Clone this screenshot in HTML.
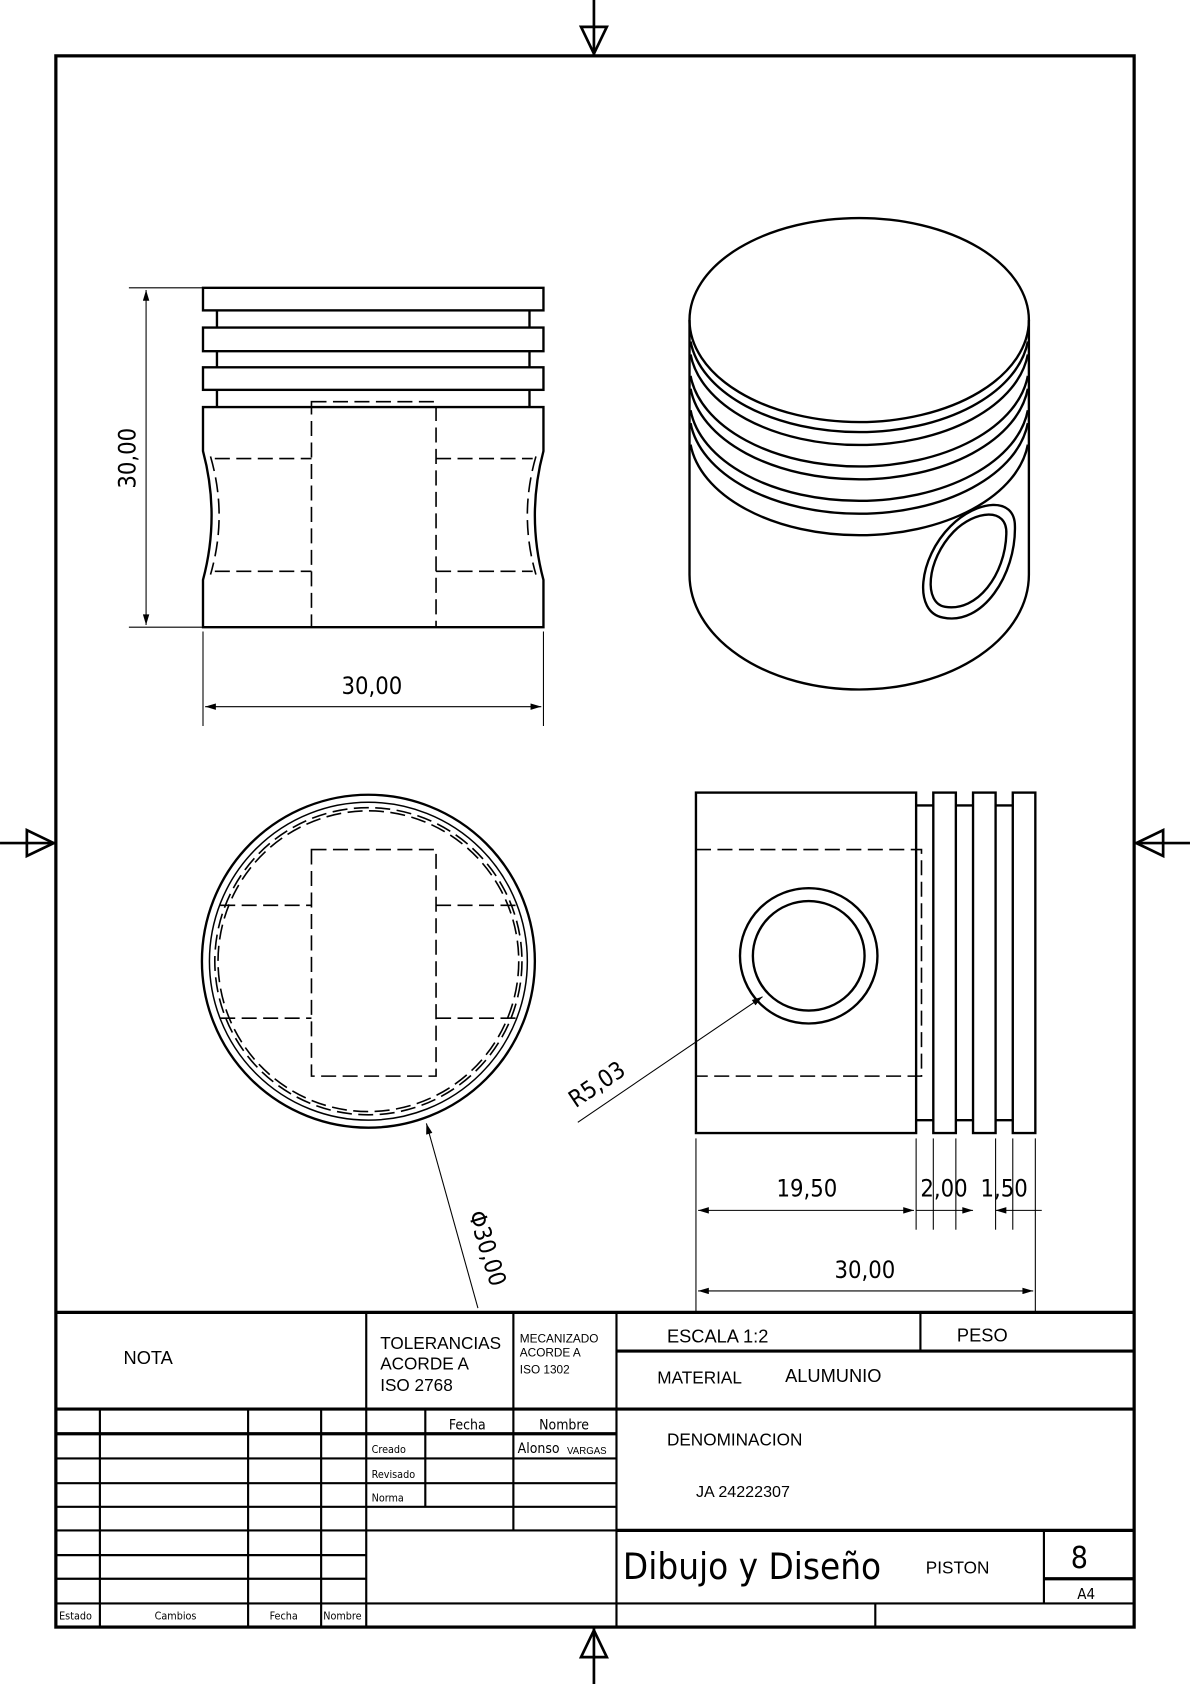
<!DOCTYPE html>
<html><head><style>
html,body{margin:0;padding:0;background:#fff;}
svg{display:block;}
text{font-family:"Liberation Sans",sans-serif;fill:#000;}
.d{font-family:"DejaVu Sans Condensed","DejaVu Sans",sans-serif;font-weight:200;}
</style></head><body>
<svg width="1190" height="1684" viewBox="0 0 1108 1568" xmlns="http://www.w3.org/2000/svg">
<defs>
<marker id="a" viewBox="0 0 10 6" refX="10" refY="3" markerWidth="14" markerHeight="6" markerUnits="userSpaceOnUse" orient="auto-start-reverse"><path d="M0,0L10,3L0,6z" fill="#000"/></marker>
</defs>
<g fill="none" stroke="#000">
<!-- frame -->
<rect x="52" y="52" width="1004" height="1463" stroke-width="3"/>
<!-- center marks -->
<g stroke-width="2.5">
<line x1="553" y1="0" x2="553" y2="52"/><path d="M541,25L565,25L553,50Z"/>
<line x1="0" y1="785" x2="52" y2="785"/><path d="M25,773L25,797L50,785Z"/>
<line x1="1056" y1="785" x2="1108" y2="785"/><path d="M1083,773L1083,797L1058,785Z"/>
<line x1="553" y1="1515" x2="553" y2="1568"/><path d="M541,1543L565,1543L553,1518Z"/>
</g>

<!-- FRONT VIEW -->
<g stroke-width="2.2">
<rect x="189" y="268" width="317" height="21"/>
<rect x="189" y="305" width="317" height="22"/>
<rect x="189" y="342" width="317" height="21"/>
<line x1="202" y1="289" x2="202" y2="305"/><line x1="493" y1="289" x2="493" y2="305"/>
<line x1="202" y1="327" x2="202" y2="342"/><line x1="493" y1="327" x2="493" y2="342"/>
<line x1="202" y1="363" x2="202" y2="379"/><line x1="493" y1="363" x2="493" y2="379"/>
<path d="M189,379L506,379L506,420Q490,480 506,540L506,584L189,584L189,540Q205,480 189,420Z"/>
</g>
<g stroke-width="1.5" stroke-dasharray="14,6">
<rect x="290" y="374" width="116" height="210"/>
<line x1="200" y1="427" x2="290" y2="427"/><line x1="406" y1="427" x2="496" y2="427"/>
<line x1="200" y1="532" x2="290" y2="532"/><line x1="406" y1="532" x2="496" y2="532"/>
<path d="M196,425Q212,480 196,535"/><path d="M499,425Q483,480 499,535"/>
</g>
<g stroke-width="1">
<line x1="120" y1="268" x2="189" y2="268"/><line x1="120" y1="584" x2="189" y2="584"/>
<line x1="136" y1="270" x2="136" y2="582" marker-start="url(#a)" marker-end="url(#a)"/>
<line x1="189" y1="588" x2="189" y2="676"/><line x1="506" y1="588" x2="506" y2="676"/>
<line x1="191" y1="658" x2="504" y2="658" marker-start="url(#a)" marker-end="url(#a)"/>
</g>

<!-- ISO VIEW -->
<g stroke-width="2.2">
<ellipse cx="800" cy="298" rx="158" ry="95"/>
<path d="M642,298L642,535A158,107 0 0 0 958,535L958,298"/>
<path d="M643,318A158,95 0 0 0 957,318"/>
<path d="M643,330A158,95 0 0 0 957,330"/>
<path d="M643,350A158,95 0 0 0 957,350"/>
<path d="M643,362A158,95 0 0 0 957,362"/>
<path d="M643,382A158,95 0 0 0 957,382"/>
<path d="M643,394A158,95 0 0 0 957,394"/>
<path d="M643,414A158,95 0 0 0 957,414"/>
<path d="M878,575C850,570 855,520 885,490C910,465 945,462 945,490C946,535 915,583 878,575Z"/>
<path d="M880,565C860,562 862,522 888,495C908,475 938,472 937,497C936,535 910,570 880,565Z"/>
</g>

<!-- TOP VIEW -->
<g stroke-width="2.2">
<circle cx="343" cy="895" r="155"/>
<circle cx="343" cy="895" r="148" stroke-width="1.4"/>
</g>
<g stroke-width="1.5" stroke-dasharray="14,6">
<circle cx="343" cy="895" r="143"/>
<circle cx="343" cy="895" r="140"/>
<rect x="290" y="791" width="116" height="211"/>
<line x1="205" y1="843" x2="290" y2="843"/><line x1="406" y1="843" x2="484" y2="843"/>
<line x1="205" y1="948" x2="290" y2="948"/><line x1="406" y1="948" x2="484" y2="948"/>
</g>
<line x1="445" y1="1218" x2="397" y2="1046" stroke-width="1" marker-end="url(#a)"/>

<!-- SIDE VIEW -->
<g stroke-width="2.2">
<rect x="648" y="738" width="205" height="317"/>
<rect x="869" y="738" width="21" height="317"/>
<rect x="906" y="738" width="21" height="317"/>
<rect x="943" y="738" width="21" height="317"/>
<line x1="853" y1="750" x2="869" y2="750"/><line x1="853" y1="1043" x2="869" y2="1043"/>
<line x1="890" y1="750" x2="906" y2="750"/><line x1="890" y1="1043" x2="906" y2="1043"/>
<line x1="927" y1="750" x2="943" y2="750"/><line x1="927" y1="1043" x2="943" y2="1043"/>
<ellipse cx="753" cy="890" rx="64" ry="63"/>
<ellipse cx="753" cy="890" rx="52" ry="51"/>
</g>
<path d="M648,791L858,791L858,1002L648,1002" stroke-width="1.5" stroke-dasharray="14,6"/>
<line x1="538" y1="1045" x2="710" y2="928" stroke-width="1" marker-end="url(#a)"/>
<g stroke-width="1">
<line x1="648" y1="1060" x2="648" y2="1222"/><line x1="964" y1="1060" x2="964" y2="1222"/>
<line x1="853" y1="1060" x2="853" y2="1145"/><line x1="869" y1="1060" x2="869" y2="1145"/>
<line x1="890" y1="1060" x2="890" y2="1145"/><line x1="927" y1="1060" x2="927" y2="1145"/>
<line x1="943" y1="1060" x2="943" y2="1145"/>
<line x1="650" y1="1127" x2="851" y2="1127" marker-start="url(#a)" marker-end="url(#a)"/>
<line x1="853" y1="1127" x2="869" y2="1127"/>
<line x1="869" y1="1127" x2="890" y2="1127"/>
<line x1="890" y1="1127" x2="906" y2="1127" marker-end="url(#a)"/>
<line x1="927" y1="1127" x2="943" y2="1127" marker-start="url(#a)"/>
<line x1="943" y1="1127" x2="970" y2="1127"/>
<line x1="650" y1="1202" x2="962" y2="1202" marker-start="url(#a)" marker-end="url(#a)"/>
</g>

<!-- TITLE BLOCK -->
<g stroke-width="3">
<line x1="52" y1="1222" x2="1056" y2="1222"/>
<line x1="52" y1="1312" x2="1056" y2="1312"/>
<line x1="574" y1="1425" x2="1056" y2="1425"/>
<line x1="52" y1="1335" x2="574" y2="1335"/>
<line x1="574" y1="1258" x2="1056" y2="1258"/>
</g>
<g stroke-width="2">
<line x1="341" y1="1222" x2="341" y2="1515"/>
<line x1="478" y1="1222" x2="478" y2="1425"/>
<line x1="574" y1="1222" x2="574" y2="1515"/>
<line x1="857" y1="1222" x2="857" y2="1258"/>
<line x1="93" y1="1312" x2="93" y2="1515"/>
<line x1="231" y1="1312" x2="231" y2="1515"/>
<line x1="299" y1="1312" x2="299" y2="1515"/>
<line x1="396" y1="1312" x2="396" y2="1403"/>
<line x1="52" y1="1358" x2="574" y2="1358"/>
<line x1="52" y1="1381" x2="574" y2="1381"/>
<line x1="52" y1="1403" x2="574" y2="1403"/>
<line x1="52" y1="1425" x2="574" y2="1425"/>
<line x1="52" y1="1448" x2="341" y2="1448"/>
<line x1="52" y1="1470" x2="341" y2="1470"/>
<line x1="52" y1="1493" x2="1056" y2="1493"/>
<line x1="972" y1="1425" x2="972" y2="1493"/>
<line x1="972" y1="1470" x2="1056" y2="1470" stroke-width="3"/>
<line x1="815" y1="1493" x2="815" y2="1515"/>
</g>
</g>

<!-- dims text -->
<text class="d" x="0" y="0" font-size="22" transform="translate(126,455) rotate(-90)">30,00</text>
<text class="d" x="318" y="646" font-size="22">30,00</text>
<text class="d" x="0" y="0" font-size="22" transform="translate(436,1130) rotate(73)">Φ30,00</text>
<text class="d" x="0" y="0" font-size="22" transform="translate(536,1032) rotate(-34)">R5,03</text>
<text class="d" x="723" y="1114" font-size="22">19,50</text>
<text class="d" x="857" y="1114" font-size="22">2,00</text>
<text class="d" x="913" y="1114" font-size="22">1,50</text>
<text class="d" x="777" y="1190" font-size="22">30,00</text>

<!-- title text -->
<text x="115" y="1270" font-size="17">NOTA</text>
<text x="354" y="1256" font-size="16">TOLERANCIAS</text>
<text x="354" y="1275" font-size="16">ACORDE A</text>
<text x="354" y="1295" font-size="16">ISO 2768</text>
<text x="484" y="1250" font-size="11">MECANIZADO</text>
<text x="484" y="1263" font-size="11">ACORDE A</text>
<text x="484" y="1279" font-size="11">ISO 1302</text>
<text x="621" y="1250" font-size="17">ESCALA 1:2</text>
<text x="891" y="1249" font-size="17">PESO</text>
<text x="612" y="1288" font-size="16">MATERIAL</text>
<text x="731" y="1287" font-size="17">ALUMUNIO</text>
<text x="621" y="1346" font-size="16">DENOMINACION</text>
<text x="648" y="1394" font-size="15">JA 24222307</text>
<text class="d" x="418" y="1331" font-size="13">Fecha</text>
<text class="d" x="502" y="1331" font-size="13">Nombre</text>
<text class="d" x="346" y="1353" font-size="10">Creado</text>
<text class="d" x="482" y="1353" font-size="13">Alonso</text>
<text x="528" y="1354" font-size="9">VARGAS</text>
<text class="d" x="346" y="1376" font-size="10">Revisado</text>
<text class="d" x="346" y="1398" font-size="10">Norma</text>
<text class="d" x="580" y="1470" font-size="34">Dibujo y Diseño</text>
<text x="862" y="1465" font-size="16">PISTON</text>
<text class="d" x="997" y="1460" font-size="28">8</text>
<text class="d" x="1003" y="1489" font-size="14">A4</text>
<text class="d" x="55" y="1508" font-size="10">Estado</text>
<text class="d" x="144" y="1508" font-size="10">Cambios</text>
<text class="d" x="251" y="1508" font-size="10">Fecha</text>
<text class="d" x="301" y="1508" font-size="10">Nombre</text>
</svg>
</body></html>
